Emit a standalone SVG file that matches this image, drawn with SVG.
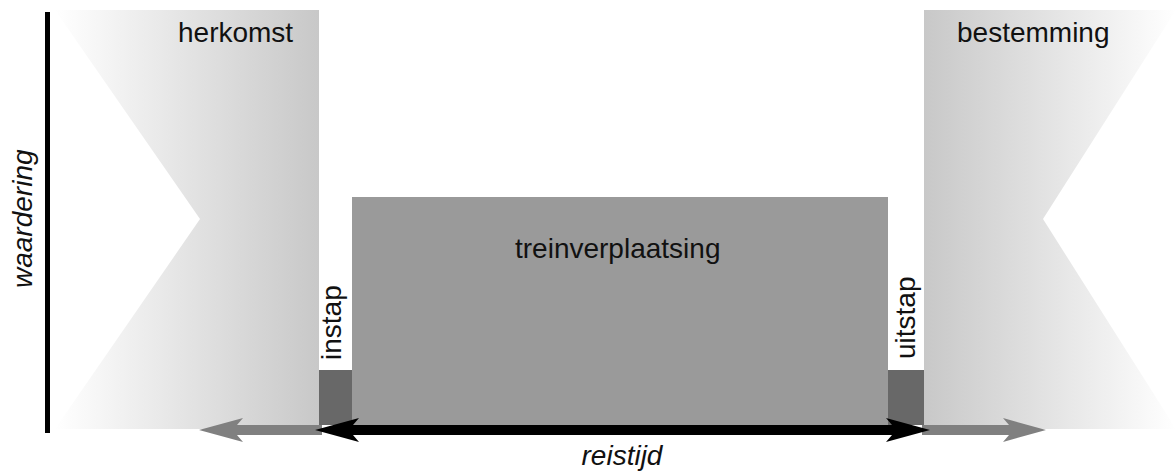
<svg xmlns="http://www.w3.org/2000/svg" width="1176" height="473" viewBox="0 0 1176 473">
  <style>
    .lbl { font-family: "Liberation Sans", Arial, sans-serif; font-size: 28px; fill: #111; }
    .it { font-style: italic; }
    .dark { fill: #686868; }
    .gray-arrow { fill: #808080; }
    .black-arrow { fill: #000; }
  </style>
  <defs>
    <linearGradient id="gL" x1="55" y1="0" x2="319" y2="0" gradientUnits="userSpaceOnUse">
      <stop offset="0" stop-color="#ffffff"/>
      <stop offset="1" stop-color="#c8c8c8"/>
    </linearGradient>
    <linearGradient id="gR" x1="924" y1="0" x2="1176" y2="0" gradientUnits="userSpaceOnUse">
      <stop offset="0" stop-color="#c8c8c8"/>
      <stop offset="1" stop-color="#ffffff"/>
    </linearGradient>
  </defs>
  <rect width="1176" height="473" fill="#fff"/>

  <g id="axis">
    <rect x="45" y="12" width="5" height="421" fill="#000"/>
    <text class="lbl it" transform="translate(32,288) rotate(-90)">waardering</text>
  </g>

  <g id="herkomst">
    <polygon points="55,10 319,10 319,429 55,429 200,219" fill="url(#gL)"/>
    <text class="lbl" x="178" y="42">herkomst</text>
  </g>

  <g id="bestemming">
    <polygon points="924,10 1176,10 1043,219 1176,429 924,429" fill="url(#gR)"/>
    <text class="lbl" x="957" y="42">bestemming</text>
  </g>

  <g id="treinverplaatsing">
    <rect x="352" y="197" width="536" height="228" fill="#9a9a9a"/>
    <text class="lbl" x="515" y="258">treinverplaatsing</text>
  </g>

  <g id="instap">
    <rect class="dark" x="319" y="370" width="33" height="55"/>
    <text class="lbl" transform="translate(341,360) rotate(-90)">instap</text>
  </g>

  <g id="uitstap">
    <rect class="dark" x="888" y="370" width="36" height="55"/>
    <text class="lbl" transform="translate(915,359) rotate(-90)">uitstap</text>
  </g>

  <g id="connectors">
    <path class="gray-arrow" d="M199,430 L243,418 L237,425 L322,425 L322,435 L237,435 L243,442 Z"/>
    <path class="gray-arrow" d="M922,425 L1009,425 L1003,418 L1046,430 L1003,442 L1009,435 L922,435 Z"/>
    <path class="black-arrow" d="M315,430 L359,418 L353,425 L892,425 L886,418 L930,430 L886,442 L892,435 L353,435 L359,442 Z"/>
  </g>

  <g id="reistijd">
    <text class="lbl it" x="622" y="465" text-anchor="middle">reistijd</text>
  </g>
</svg>
